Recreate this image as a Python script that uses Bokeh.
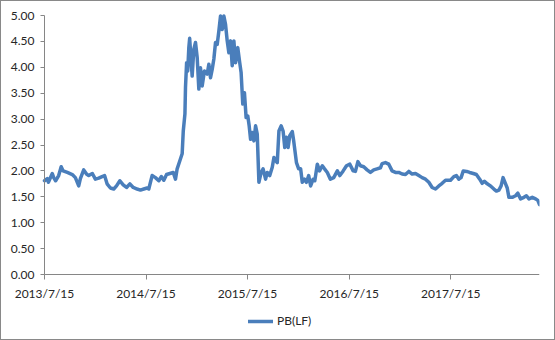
import pandas as pd
from bokeh.plotting import figure
from bokeh.layouts import column
from bokeh.models import (Range1d, FixedTicker, NumeralTickFormatter, CustomJSTickFormatter,
                          Legend, LegendItem, ColumnDataSource)
from bokeh.embed import file_html
from bokeh.resources import INLINE

series_name = "PB(LF)"
x_tick_dates = ["2013-07-15", "2014-07-15", "2015-07-15", "2016-07-15", "2017-07-15"]
y_ticks = [0, 0.5, 1.0, 1.5, 2.0, 2.5, 3.0, 3.5, 4.0, 4.5, 5.0]

dates = [
    "2013-07-15", "2013-07-25", "2013-07-29", "2013-08-12", "2013-08-17", "2013-08-24",
    "2013-09-04", "2013-09-13", "2013-09-20", "2013-10-05", "2013-10-23", "2013-11-03",
    "2013-11-15", "2013-11-21", "2013-12-03", "2013-12-13", "2013-12-21", "2014-01-03",
    "2014-01-14", "2014-01-26", "2014-02-07", "2014-02-16", "2014-02-25", "2014-03-09",
    "2014-03-21", "2014-03-31", "2014-04-12", "2014-04-24", "2014-05-06", "2014-05-18",
    "2014-05-30", "2014-06-13", "2014-06-25", "2014-07-07", "2014-07-19", "2014-07-25",
    "2014-08-06", "2014-08-18", "2014-08-30", "2014-09-08", "2014-09-17", "2014-09-27",
    "2014-10-09", "2014-10-21", "2014-10-29", "2014-11-04", "2014-11-14", "2014-11-22",
    "2014-11-26", "2014-12-02", "2014-12-04", "2014-12-08", "2014-12-12", "2014-12-16",
    "2014-12-19", "2014-12-25", "2014-12-28", "2015-01-03", "2015-01-09", "2015-01-15",
    "2015-01-21", "2015-01-27", "2015-02-02", "2015-02-10", "2015-02-20", "2015-02-26",
    "2015-03-04", "2015-03-10", "2015-03-16", "2015-03-22", "2015-03-28", "2015-04-03",
    "2015-04-09", "2015-04-15", "2015-04-21", "2015-04-27", "2015-05-03", "2015-05-09",
    "2015-05-15", "2015-05-21", "2015-05-27", "2015-06-02", "2015-06-10", "2015-06-17",
    "2015-06-22", "2015-06-28", "2015-07-04", "2015-07-10", "2015-07-16", "2015-07-21",
    "2015-07-26", "2015-08-01", "2015-08-07", "2015-08-13", "2015-08-19", "2015-08-25",
    "2015-09-02", "2015-09-09", "2015-09-18", "2015-09-24", "2015-10-03", "2015-10-12",
    "2015-10-18", "2015-10-24", "2015-10-30", "2015-11-05", "2015-11-13", "2015-11-20",
    "2015-11-26", "2015-12-02", "2015-12-08", "2015-12-14", "2015-12-23", "2015-12-28",
    "2016-01-07", "2016-01-15", "2016-01-22", "2016-01-28", "2016-02-05", "2016-02-12",
    "2016-02-20", "2016-02-27", "2016-03-07", "2016-03-13", "2016-03-22", "2016-03-30",
    "2016-04-09", "2016-04-17", "2016-04-27", "2016-05-08", "2016-05-20", "2016-06-02",
    "2016-06-11", "2016-06-23", "2016-07-05", "2016-07-17", "2016-07-29", "2016-08-06",
    "2016-08-15", "2016-08-24", "2016-09-05", "2016-09-17", "2016-09-29", "2016-10-11",
    "2016-10-23", "2016-11-04", "2016-11-10", "2016-11-22", "2016-12-04", "2016-12-16",
    "2016-12-28", "2017-01-09", "2017-01-21", "2017-02-02", "2017-02-14", "2017-02-26",
    "2017-03-10", "2017-03-22", "2017-04-03", "2017-04-15", "2017-04-27", "2017-05-09",
    "2017-05-21", "2017-06-02", "2017-06-14", "2017-06-26", "2017-07-08", "2017-07-14",
    "2017-07-26", "2017-08-04", "2017-08-13", "2017-08-21", "2017-08-29", "2017-09-10",
    "2017-09-21", "2017-10-04", "2017-10-15", "2017-10-27", "2017-11-05", "2017-11-13",
    "2017-11-23", "2017-12-05", "2017-12-17", "2017-12-26", "2018-01-04", "2018-01-12",
    "2018-01-19", "2018-01-28", "2018-02-03", "2018-02-09", "2018-02-21", "2018-03-05",
    "2018-03-13", "2018-03-23", "2018-04-04", "2018-04-13", "2018-04-22", "2018-05-04",
    "2018-05-16", "2018-05-24", "2018-05-30",
]

pb_lf = [
    1.81, 1.85, 1.78, 1.95, 1.87, 1.81,
    1.91, 2.08, 2.00, 1.97, 1.93, 1.87,
    1.71, 1.85, 2.02, 1.94, 1.91, 1.95,
    1.84, 1.86, 1.89, 1.91, 1.75, 1.67,
    1.65, 1.71, 1.81, 1.73, 1.68, 1.75,
    1.68, 1.65, 1.63, 1.65, 1.67, 1.65,
    1.91, 1.87, 1.81, 1.89, 1.82, 1.93,
    1.95, 1.97, 1.84, 2.04, 2.20, 2.33,
    2.77, 3.10, 3.61, 4.09, 3.93, 4.38,
    4.56, 4.06, 3.83, 4.35, 4.48, 4.19,
    3.58, 3.99, 3.64, 3.93, 3.87, 4.06,
    3.80, 3.96, 4.16, 4.48, 4.44, 4.70,
    4.99, 4.73, 4.99, 4.83, 4.51, 4.28,
    4.51, 4.03, 4.51, 4.09, 4.38, 4.09,
    3.90, 3.29, 3.51, 3.03, 3.06, 2.87,
    2.61, 2.74, 2.58, 2.87, 2.71, 1.78,
    1.97, 2.04, 1.84, 1.97, 1.91, 2.07,
    2.26, 2.20, 2.16, 2.77, 2.87, 2.77,
    2.45, 2.65, 2.45, 2.68, 2.76, 2.58,
    2.16, 2.04, 2.04, 1.78, 1.84, 1.78,
    1.91, 1.71, 1.84, 1.81, 2.13, 2.00,
    2.10, 2.04, 1.97, 1.84, 1.87, 2.00,
    1.91, 2.00, 2.10, 2.13, 2.00, 1.99,
    2.18, 2.10, 2.08, 2.02, 1.97, 2.02,
    2.04, 2.06, 2.14, 2.16, 2.13, 2.00,
    1.97, 1.97, 1.94, 1.93, 1.99, 1.94,
    1.95, 1.91, 1.87, 1.84, 1.78, 1.68,
    1.65, 1.71, 1.76, 1.82, 1.82, 1.82,
    1.89, 1.91, 1.84, 1.87, 2.00, 1.99,
    1.97, 1.95, 1.93, 1.84, 1.76, 1.80,
    1.75, 1.71, 1.65, 1.61, 1.63, 1.71,
    1.87, 1.75, 1.67, 1.49, 1.49, 1.52,
    1.57, 1.46, 1.49, 1.52, 1.46, 1.49,
    1.46, 1.43, 1.35,
]

FONT = "Lato"
TEXT_COLOR = "#262626"
AXIS_COLOR = "#868686"
LINE_COLOR = "#4A7EBB"

src = ColumnDataSource(dict(date=pd.to_datetime(dates), pb=pb_lf))

t0 = pd.Timestamp(dates[0])
t1 = pd.Timestamp(dates[-1])
t0_ms = t0.value / 1e6
t1_ms = t1.value / 1e6

# The frame covers the whole canvas (minus the right margin) so that the axes,
# drawn at fixed locations, their labels and the legend are never clipped.
# Plot area proper: 495 px wide starting 43 px in; 259 px tall, 14 px from the top,
# with y=0 sitting 65 px above the canvas bottom.
LEFT_PAD, PLOT_W = 43, 495
TOP_PAD, BOTTOM_PAD, PLOT_H = 14, 65, 259
x_start = t0 - (t1 - t0) * LEFT_PAD / PLOT_W
y_start = -5 * BOTTOM_PAD / PLOT_H
y_end = 5 + 5 * TOP_PAD / PLOT_H

p = figure(width=553, height=338, x_axis_type="datetime", output_backend="svg",
           toolbar_location=None,
           x_range=Range1d(x_start, t1), y_range=Range1d(y_start, y_end))
p.min_border_left = 0
p.min_border_right = 15
p.min_border_top = 0
p.min_border_bottom = 0
p.outline_line_color = None
p.grid.visible = False
p.background_fill_color = "white"
p.border_fill_color = "white"

r = p.line("date", "pb", source=src, line_color=LINE_COLOR, line_width=3.5,
           line_join="round", line_cap="round")

ya = p.yaxis[0]
ya.fixed_location = t0_ms
ya.ticker = FixedTicker(ticks=y_ticks)
ya.formatter = NumeralTickFormatter(format="0.00")
ya.bounds = (0, 5)
xa = p.xaxis[0]
xa.fixed_location = 0
xa.bounds = (t0_ms, t1_ms)
xa.ticker = FixedTicker(ticks=[pd.Timestamp(d).value / 1e6 for d in x_tick_dates])
xa.formatter = CustomJSTickFormatter(code="""
const d = new Date(tick);
return d.getUTCFullYear() + "/" + (d.getUTCMonth() + 1) + "/" + d.getUTCDate();
""")
for ax in (xa, ya):
    ax.axis_line_color = AXIS_COLOR
    ax.major_tick_line_color = AXIS_COLOR
    ax.minor_tick_line_color = None
    ax.major_tick_in = 0
    ax.major_tick_out = 5
    ax.major_label_text_font = FONT
    ax.major_label_text_font_size = "12px"
    ax.major_label_text_color = TEXT_COLOR
ya.major_tick_out = 4
ya.major_label_standoff = 6
xa.major_label_standoff = 6

legend = Legend(items=[LegendItem(label=series_name, renderers=[r])],
                location=(LEFT_PAD + 204, 11), orientation="horizontal",
                padding=0, margin=0, spacing=0, glyph_width=25, glyph_height=12,
                label_standoff=4, label_text_font=FONT, label_text_font_size="12px",
                label_text_color=TEXT_COLOR, border_line_color=None,
                background_fill_alpha=0)
p.add_layout(legend)

layout = column(p, styles={"border": "1px solid #898989", "background": "white"})

open("out.html", "w").write(file_html(layout, INLINE))
